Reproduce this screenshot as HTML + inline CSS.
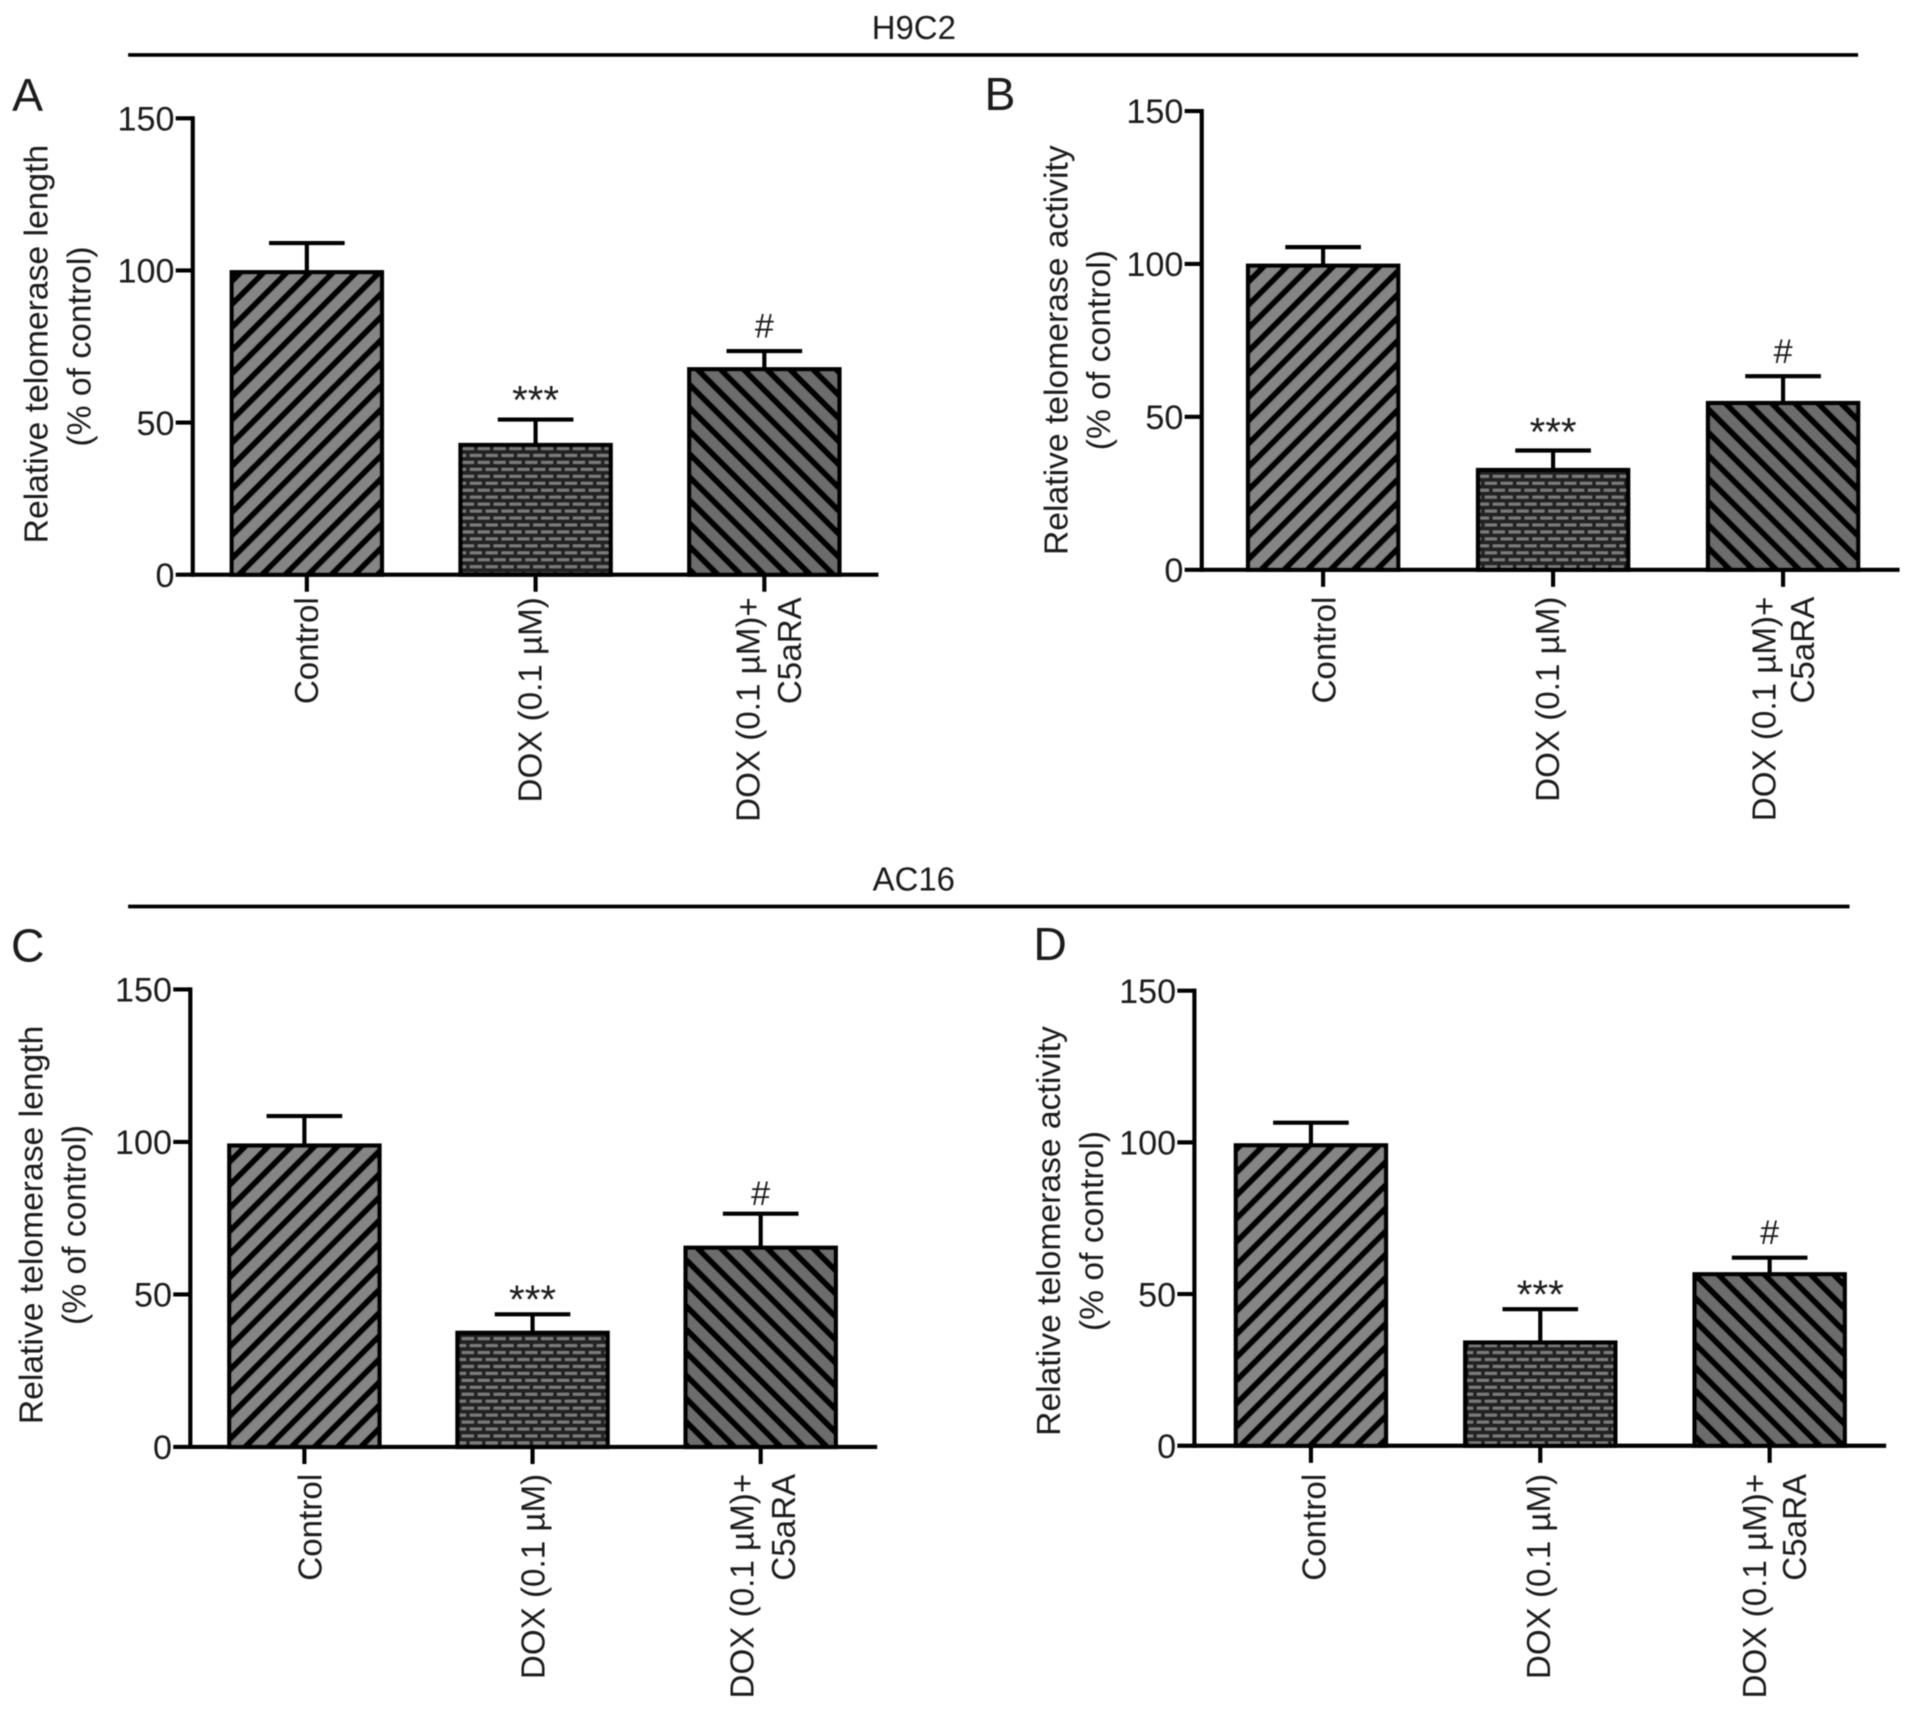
<!DOCTYPE html>
<html lang="en">
<head>
<meta charset="utf-8">
<title>Relative telomerase length and activity in H9C2 and AC16 cells</title>
<style>
html,body{margin:0;padding:0;background:#fff;}
svg{display:block;}
text{font-family:"Liberation Sans",Arial,sans-serif;fill:#1a1a1a;}
</style>
</head>
<body>
<svg id="figure" xmlns="http://www.w3.org/2000/svg" width="1913" height="1711" viewBox="0 0 1568 1402.4">
  <defs>
    <filter id="soft" x="-2%" y="-2%" width="104%" height="104%"><feGaussianBlur stdDeviation="0.45"/></filter>
    <pattern id="stripe-forward" patternUnits="userSpaceOnUse" width="13.4" height="13.4" patternTransform="rotate(45)">
      <rect width="13.4" height="13.4" fill="#858585"/>
      <rect width="5" height="13.4" fill="#000"/>
    </pattern>
    <pattern id="stripe-back" patternUnits="userSpaceOnUse" width="13.4" height="13.4" patternTransform="rotate(-45)">
      <rect width="13.4" height="13.4" fill="#6c6c6c"/>
      <rect width="5" height="13.4" fill="#000"/>
    </pattern>
    <pattern id="brick" patternUnits="userSpaceOnUse" width="13" height="11.4">
      <rect width="13" height="11.4" fill="#222"/>
      <rect x="1.5" y="1.6" width="10" height="2.4" fill="#7c7c7c"/>
      <rect x="8" y="7.3" width="10" height="2.4" fill="#7c7c7c"/>
      <rect x="-5" y="7.3" width="10" height="2.4" fill="#7c7c7c"/>
    </pattern>
  </defs>

  <g id="content" filter="url(#soft)">
    <text x="749" y="32" font-size="27" text-anchor="middle">H9C2</text>
    <line x1="105" y1="45" x2="1523" y2="45" stroke="#000" stroke-width="3"/>
    <text x="749" y="730" font-size="27" text-anchor="middle">AC16</text>
    <line x1="105" y1="743" x2="1516" y2="743" stroke="#000" stroke-width="3"/>
    <text x="10" y="91" font-size="38">A</text>
    <text x="807" y="90" font-size="38">B</text>
    <text x="9" y="788" font-size="38">C</text>
    <text x="847" y="787" font-size="38">D</text>
  </g>
</svg>

<script>
// Chart data
const categories = ['Control', 'DOX (0.1 µM)', 'DOX (0.1 µM)+|C5aRA'];
const yTickLabels = [0, 50, 100, 150];
const significance = ['', '***', '#'];
const panelAMeans = [99.4, 42.6, 67.5];
const panelAErrors = [9.6, 8.4, 6];
const panelBMeans = [99.4, 32.6, 54.5];
const panelBErrors = [6.1, 6.4, 8.8];
const panelCMeans = [98.8, 37.4, 65.3];
const panelCErrors = [9.7, 6.1, 11.2];
const panelDMeans = [99, 34, 56.5];
const panelDErrors = [7.5, 11, 5.5];
const yTitleLength = 'Relative telomerase length';
const yTitleActivity = 'Relative telomerase activity';
const yTitleUnit = '(% of control)';

// Panel geometry (layout only)
const panels = [
  {id:'a', means:panelAMeans, errors:panelAErrors, title:yTitleLength,
   axisX:158, axisEnd:720, y0:471, y150:97, firstBar:190, step:187.5,
   t1:[30,282], t2:[65,284], labelDx:[9,5,-4], labelDy:18.5, line2:34, starDy:5, hashDy:11},
  {id:'b', means:panelBMeans, errors:panelBErrors, title:yTitleActivity,
   axisX:985, axisEnd:1557, y0:467, y150:91, firstBar:1023, step:188.5,
   t1:[866,287], t2:[901,287], labelDx:[10,5,-6], labelDy:22, line2:31.5, starDy:4, hashDy:11},
  {id:'c', means:panelCMeans, errors:panelCErrors, title:yTitleLength,
   axisX:156, axisEnd:719, y0:1186, y150:811, firstBar:188, step:187,
   t1:[26,1004], t2:[61,1004], labelDx:[14,10,-6], labelDy:22, line2:34, starDy:1, hashDy:7},
  {id:'d', means:panelDMeans, errors:panelDErrors, title:yTitleActivity,
   axisX:979, axisEnd:1546, y0:1185, y150:812, firstBar:1013, step:188,
   t1:[860,1009], t2:[895,1009], labelDx:[12,8,-3], labelDy:23, line2:33, starDy:1, hashDy:11}
];

const barWidth = 123;
const capHalf = 31;
const fills = ['url(#stripe-forward)', 'url(#brick)', 'url(#stripe-back)'];
const SVGNS = 'http://www.w3.org/2000/svg';
const root = document.getElementById('content');

function make(tag, parent, props) {
  const el = document.createElementNS(SVGNS, tag);
  for (const k in props) el.setAttribute(k, props[k]);
  parent.appendChild(el);
  return el;
}

function drawPanel(p) {
  const yScale = v => p.y0 - (v / 150) * (p.y0 - p.y150);
  const xBand = i => p.firstBar + i * p.step;
  const xCenter = i => xBand(i) + barWidth / 2;

  const g = make('g', root, {});
  
  

  categories.forEach((cat, i) => {
    const top = yScale(p.means[i]);
    const errTop = yScale(p.means[i] + p.errors[i]);
    const cx = xCenter(i);

    const stem = make('line', g, {x1:cx, y1:top, x2:cx, y2:errTop, stroke:'#000', 'stroke-width':3.4});
    
    

    const cap = make('line', g, {x1:cx - capHalf, y1:errTop, x2:cx + capHalf, y2:errTop, stroke:'#000', 'stroke-width':3.4});
    
    

    const bar = make('rect', g, {x:xBand(i), y:top, width:barWidth, height:p.y0 - top, fill:fills[i], stroke:'#000', 'stroke-width':3.6});
    
    

    const tick = make('line', g, {x1:cx, y1:p.y0, x2:cx, y2:p.y0 + 14, stroke:'#000', 'stroke-width':3.4});
    
    

    const lines = cat.split('|');
    lines.forEach((line, j) => {
      const bx = cx + p.labelDx[i] + j * p.line2;
      const by = p.y0 + p.labelDy;
      const t = make('text', g, {'font-size':27.2, 'text-anchor':'end', transform:'translate(' + bx + ',' + by + ') rotate(-90)'});
      
      
      t.textContent = line;
    });

    if (significance[i]) {
      const isStars = significance[i] === '***';
      const mark = make('text', g, {x:cx, y:errTop - (isStars ? p.starDy : p.hashDy), 'font-size':isStars ? 33 : 28, 'text-anchor':'middle'});
      
      
      mark.textContent = significance[i];
    }
  });

  const yAxis = make('line', g, {x1:p.axisX, y1:yScale(150) - 1.7, x2:p.axisX, y2:p.y0 + 1.7, stroke:'#000', 'stroke-width':3.4});
  
  

  const xAxis = make('line', g, {x1:p.axisX, y1:p.y0, x2:p.axisEnd, y2:p.y0, stroke:'#000', 'stroke-width':3.4});
  
  

  yTickLabels.forEach(v => {
    const y = yScale(v);
    const tick = make('line', g, {x1:p.axisX - 14, y1:y, x2:p.axisX, y2:y, stroke:'#000', 'stroke-width':3.4});
    
    
    const label = make('text', g, {x:p.axisX - 15, y:y + 10, 'font-size':28, 'text-anchor':'end'});
    
    
    label.textContent = v;
  });

  const title = make('text', g, {'font-size':27.6, 'text-anchor':'middle', transform:'translate(' + (p.t1[0] + 9) + ',' + p.t1[1] + ') rotate(-90)'});
  
  
  title.textContent = p.title;

  const unit = make('text', g, {'font-size':27.6, 'text-anchor':'middle', transform:'translate(' + (p.t2[0] + 9) + ',' + p.t2[1] + ') rotate(-90)'});
  
  
  unit.textContent = yTitleUnit;
}

panels.forEach(drawPanel);
</script>
</body>
</html>
